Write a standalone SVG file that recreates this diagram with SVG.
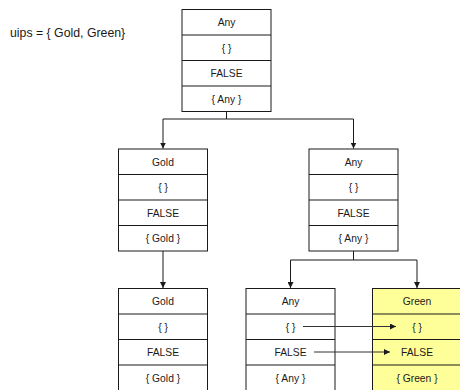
<svg xmlns="http://www.w3.org/2000/svg" width="460" height="390" viewBox="0 0 460 390">
  <style>
    .box { fill: #ffffff; stroke: #1a1a1a; stroke-width: 1; }
    .hl { fill: #ffff99; }
    .div { stroke: #1a1a1a; stroke-width: 1.2; }
    .t { font-family: "Liberation Sans", Arial, sans-serif; font-size: 10.3px; fill: #1a1a1a; text-anchor: middle; }
    .lbl { font-family: "Liberation Sans", Arial, sans-serif; font-size: 12.3px; fill: #1a1a1a; }
    .edge { fill: none; stroke: #1a1a1a; stroke-width: 1; }
    .link { fill: none; stroke: #333333; stroke-width: 1; }
  </style>
  <defs>
    <marker id="arrow" viewBox="0 0 10 10" refX="10" refY="5" markerWidth="6" markerHeight="6" markerUnits="userSpaceOnUse" orient="auto">
      <path d="M0,0 L10,5 L0,10 z" fill="#1a1a1a"/>
    </marker>
    <!-- four-row record: label, set, flag, type -->
    <g id="rows">
      <rect class="box" x="0" y="0" width="89" height="102"/>
      <line class="div" x1="0" y1="25.5" x2="89" y2="25.5"/>
      <line class="div" x1="0" y1="51" x2="89" y2="51"/>
      <line class="div" x1="0" y1="76.5" x2="89" y2="76.5"/>
    </g>
  </defs>

  <text class="lbl" x="10" y="37">uips = { Gold, Green}</text>

  <g id="root" transform="translate(182,9.5)">
    <use href="#rows"/>
    <text class="t" x="44.5" y="16.5">Any</text>
    <text class="t" x="44.5" y="42">{ }</text>
    <text class="t" x="44.5" y="67.5">FALSE</text>
    <text class="t" x="44.5" y="93">{ Any }</text>
  </g>

  <g id="gold" transform="translate(118.5,149)">
    <use href="#rows"/>
    <text class="t" x="44.5" y="16.5">Gold</text>
    <text class="t" x="44.5" y="42">{ }</text>
    <text class="t" x="44.5" y="67.5">FALSE</text>
    <text class="t" x="44.5" y="93">{ Gold }</text>
  </g>

  <g id="any" transform="translate(309,149)">
    <use href="#rows"/>
    <text class="t" x="44.5" y="16.5">Any</text>
    <text class="t" x="44.5" y="42">{ }</text>
    <text class="t" x="44.5" y="67.5">FALSE</text>
    <text class="t" x="44.5" y="93">{ Any }</text>
  </g>

  <g id="gold-leaf" transform="translate(118.5,288.5)">
    <use href="#rows"/>
    <text class="t" x="44.5" y="16.5">Gold</text>
    <text class="t" x="44.5" y="42">{ }</text>
    <text class="t" x="44.5" y="67.5">FALSE</text>
    <text class="t" x="44.5" y="93">{ Gold }</text>
  </g>

  <g id="any-leaf" transform="translate(246,288.5)">
    <use href="#rows"/>
    <text class="t" x="44.5" y="16.5">Any</text>
    <text class="t" x="44.5" y="42">{ }</text>
    <text class="t" x="44.5" y="67.5">FALSE</text>
    <text class="t" x="44.5" y="93">{ Any }</text>
  </g>

  <g id="green-leaf" transform="translate(372.5,288.5)">
    <rect class="box hl" x="0" y="0" width="89" height="102"/>
    <line class="div" x1="0" y1="25.5" x2="89" y2="25.5"/>
    <line class="div" x1="0" y1="51" x2="89" y2="51"/>
    <line class="div" x1="0" y1="76.5" x2="89" y2="76.5"/>
    <text class="t" x="44.5" y="16.5">Green</text>
    <text class="t" x="44.5" y="42">{ }</text>
    <text class="t" x="44.5" y="67.5">FALSE</text>
    <text class="t" x="44.5" y="93">{ Green }</text>
  </g>

  <!-- tree edges and field links, drawn over the records -->
  <g id="connectors">
    <path class="edge" d="M226.5,111 V119 H163 V148.5" marker-end="url(#arrow)"/>
    <path class="edge" d="M226.5,119 H353.5 V148.5" marker-end="url(#arrow)"/>
    <path class="edge" d="M163,251 V288" marker-end="url(#arrow)"/>
    <path class="edge" d="M353.5,251 V260 H290.5 V288" marker-end="url(#arrow)"/>
    <path class="edge" d="M353.5,260 H417 V288" marker-end="url(#arrow)"/>
    <path class="link" d="M303,326.5 H396" marker-end="url(#arrow)"/>
    <path class="link" d="M314,352 H390" marker-end="url(#arrow)"/>
  </g>
</svg>
